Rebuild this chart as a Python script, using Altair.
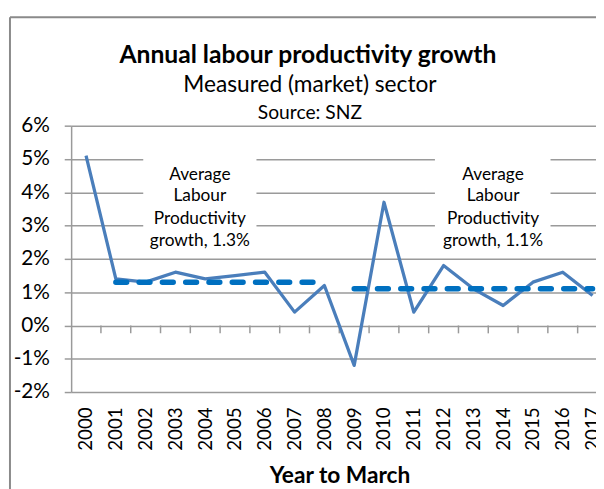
import altair as alt
import pandas as pd

# ---- data ----
years = list(range(2000, 2018))
growth = [5.1, 1.4, 1.3, 1.6, 1.4, 1.5, 1.6, 0.4, 1.2, -1.2, 3.7, 0.4, 1.8, 1.1, 0.6, 1.3, 1.6, 0.9]
avg_start = [2001, 2009]
avg_end = [2008, 2017]
avg_value = [1.3, 1.1]
y_ticks = [-2, -1, 0, 1, 2, 3, 4, 5, 6]
tick_bounds = [y + 0.5 for y in range(2000, 2017)]

# annotation placement (data units)
ann_center = [2003.82, 2013.66]
ann_left = [2001.92, 2011.71]
ann_right = [2005.72, 2015.59]
ann_bottom = 2.19
ann_top = 5.21
ann_line_y = [4.38, 3.73, 3.06, 2.40]

FONT = "Lato"
GRID = "#9a9a9a"

df = pd.DataFrame({"year": years, "growth": growth})
avg_rows = []
for i, (s, e, v) in enumerate(zip(avg_start, avg_end, avg_value)):
    avg_rows.append({"period": i, "year": s, "growth": v})
    avg_rows.append({"period": i, "year": e, "growth": v})
avg_df = pd.DataFrame(avg_rows)

box_df = pd.DataFrame({"x0": ann_left, "x1": ann_right,
                       "y0": [ann_bottom] * 2, "y1": [ann_top] * 2})
ann_rows = []
for c, v in zip(ann_center, avg_value):
    lines = ["Average", "Labour", "Productivity", f"growth, {v}%"]
    for ln, yy in zip(lines, ann_line_y):
        ann_rows.append({"x": c, "y": yy, "t": ln})
ann_df = pd.DataFrame(ann_rows)

tick_df = pd.DataFrame({"x": tick_bounds, "y0": [0] * len(tick_bounds),
                        "y1": [-0.237] * len(tick_bounds)})

xscale = alt.Scale(domain=[1999.5, 2017.116], nice=False, zero=False)
yscale = alt.Scale(domain=[-2, 6], nice=False, zero=False)

x_axis = alt.Axis(values=years, format="d", labelAngle=270, grid=False, ticks=False,
                  domain=False, labelFont=FONT, labelFontSize=19, labelColor="black",
                  labelPadding=15, labelOverlap=False, labelFlush=False,
                  title="Year to March", titleFont=FONT, titleFontSize=23,
                  titleFontWeight="bold", titleColor="black", titleX=272, titleY=92,
                  titleAlign="center", titleBaseline="alphabetic")
y_axis = alt.Axis(values=y_ticks, labelExpr="datum.value + '%'", grid=True,
                  gridColor=GRID, gridWidth=1.5, domainColor=GRID, domainWidth=1.5,
                  tickColor=GRID, tickWidth=1.5, tickSize=7, labelFont=FONT,
                  labelFontSize=21, labelColor="black", labelPadding=15, title=None)


def X(field):
    return alt.X(field, type="quantitative", scale=xscale, axis=x_axis)


def Y(field):
    return alt.Y(field, type="quantitative", scale=yscale, axis=y_axis)


boxes = alt.Chart(box_df).mark_rect(color="white").encode(
    x=X("x0"), x2="x1", y=Y("y0"), y2="y1")

zero_ticks = alt.Chart(tick_df).mark_rule(color=GRID, strokeWidth=1.5, clip=True).encode(
    x=X("x"), y=Y("y0"), y2="y1")

line = alt.Chart(df).mark_line(color="#4A7EBB", strokeWidth=3.3, strokeJoin="round",
                               clip=True).encode(x=X("year"), y=Y("growth"))

avg = alt.Chart(avg_df).mark_line(color="#0070C0", strokeWidth=5.5, strokeCap="round",
                                  strokeDash=[11, 12.6], clip=True).encode(
    x=X("year"), y=Y("growth"), detail="period:N")

ann = alt.Chart(ann_df).mark_text(font=FONT, fontSize=17.5, color="black",
                                  baseline="alphabetic", align="center").encode(
    x=X("x"), y=Y("y"), text="t:N")

one = pd.DataFrame({"a": [0]})


def title_text(txt, size, weight, yv, xv=240):
    return alt.Chart(pd.DataFrame({"t": [txt]})).mark_text(
        font=FONT, fontSize=size, fontWeight=weight, color="black",
        align="center", baseline="alphabetic").encode(
        text="t:N", x=alt.value(xv), y=alt.value(yv))


t1 = title_text("Annual labour productivity growth", 25, "bold", -64, 240)
t2 = title_text("Measured (market) sector", 23, "normal", -34, 242)
t3 = title_text("Source: SNZ", 19.5, "normal", -7, 242)

frame_left = alt.Chart(one).mark_rule(color="#8a8a8a", strokeWidth=2).encode(
    x=alt.value(-62), y=alt.value(-110), y2=alt.value(380))
frame_top = alt.Chart(one).mark_rule(color="#8a8a8a", strokeWidth=2).encode(
    x=alt.value(-62), x2=alt.value(560), y=alt.value(-110))

chart = alt.layer(boxes, zero_ticks, line, avg, ann, t1, t2, t3, frame_left, frame_top).properties(
    width=532, height=270,
    padding={"left": 64, "top": 116, "right": 0, "bottom": 95},
    autosize=alt.AutoSizeParams(type="none"),
    background="white",
).configure_view(stroke=None)

chart.save("out.html", embed_options={"renderer": "svg", "actions": False})
